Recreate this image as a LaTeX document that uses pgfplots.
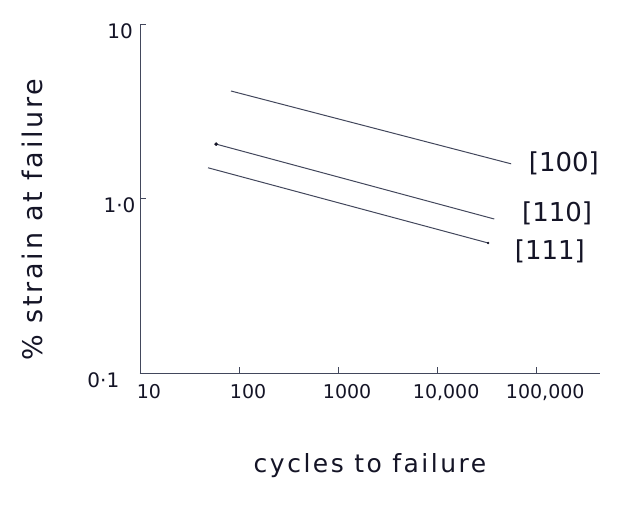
\documentclass[border=0pt]{standalone}
\usepackage{pgfplots}
\pgfplotsset{compat=1.18}
\usepackage{fontspec}
\setmainfont{DejaVu Sans}
\newfontfamily\hand[LetterSpace=10]{DejaVu Sans}
\definecolor{ink}{rgb}{0.26,0.28,0.36}
\definecolor{txt}{rgb}{0.08,0.08,0.15}
\begin{document}
\begin{tikzpicture}
\useasboundingbox (-140pt,-135pt) rectangle (484pt,373pt);
\begin{axis}[
  at={(0,0)}, anchor=south west,
  scale only axis, width=460pt, height=349pt,
  xmode=log, ymode=log,
  xmin=10, xmax=4.4e5, ymin=0.1, ymax=10,
  axis lines=left, axis line style={-, ink, line width=0.9pt},
  xtick={10,100,1000,10000,100000},
  xticklabels={10,100,1000,{10,000},{100,000}},
  ytick={0.1,1,10},
  yticklabels={\makebox[48pt][l]{0·1},1·0,\makebox[28pt][l]{10}},
  xminorticks=false, yminorticks=false,
  tick align=inside, major tick length=6pt,
  tick style={ink, line width=0.9pt},
  xticklabel style={font=\fontsize{19}{22}\selectfont, text=txt, yshift=-8pt, xshift=9pt},
  yticklabel style={font=\fontsize{20}{23}\selectfont, text=txt, yshift=-7pt, xshift=-1pt},
  xlabel={cycles to failure},
  ylabel={\% strain at failure},
  xlabel style={font=\hand\fontsize{25}{28}\selectfont, text=txt, at={(axis description cs:0.5,-0.264)}, anchor=center},
  ylabel style={font=\hand\fontsize{27}{30}\selectfont, text=txt, at={(axis description cs:-0.233,0.44)}, anchor=center},
  clip=false,
]
\addplot[ink, line width=1pt] coordinates {(83,4.13) (55800,1.58)}
  node[pos=1, anchor=west, xshift=14pt, text=txt, font=\fontsize{26}{29}\selectfont] {[100]};
\addplot[ink, line width=1pt] coordinates {(58.6,2.05) (37700,0.763)}
  node[pos=1, anchor=west, xshift=24pt, yshift=6pt, text=txt, font=\fontsize{26}{29}\selectfont] {[110]};
\addplot[ink, line width=1pt] coordinates {(48.6,1.50) (32700,0.556)}
  node[pos=1, anchor=west, xshift=23pt, yshift=-8pt, text=txt, font=\fontsize{26}{29}\selectfont] {[111]};
\addplot[only marks, mark=*, mark size=1.6pt, txt] coordinates {(58.6,2.05)};
\addplot[only marks, mark=*, mark size=1pt, txt] coordinates {(32700,0.556)};
\end{axis}
\end{tikzpicture}
\end{document}
